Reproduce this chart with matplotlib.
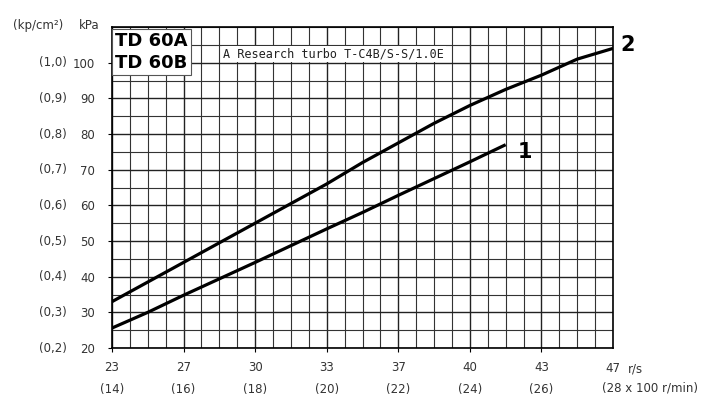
import matplotlib.pyplot as plt
from matplotlib.ticker import MultipleLocator

# speed axis in 100 r/min, pressure in kPa
rpm = [14, 15, 16, 17, 18, 19, 20, 21, 22, 23, 24, 25, 26, 27, 28]
curve2 = [33, 38.5, 44, 49.5, 55, 60.5, 66, 72, 77.5, 83, 88, 92.5, 96.5, 101, 104]
rpm1 = [14, 15, 16, 17, 18, 19, 20, 21, 22, 23, 24, 25]
curve1 = [25.6, 30, 34.8, 39.4, 44, 48.7, 53.4, 58, 62.8, 67.5, 72.2, 77]

x_ticks = [14, 16, 18, 20, 22, 24, 26, 28]
x_rs = ["23", "27", "30", "33", "37", "40", "43", "47"]
y_ticks = [20, 30, 40, 50, 60, 70, 80, 90, 100]
y_kp = ["(0,2)", "(0,3)", "(0,4)", "(0,5)", "(0,6)", "(0,7)", "(0,8)", "(0,9)", "(1,0)"]

txt = "#333333"

fig = plt.figure(figsize=(7.09, 3.96), dpi=100)
ax = fig.add_axes([0.158, 0.1212, 0.7066, 0.8106])

ax.set_xlim(14, 28)
ax.set_ylim(20, 110)

ax.xaxis.set_minor_locator(MultipleLocator(0.5))
ax.yaxis.set_minor_locator(MultipleLocator(5))
ax.grid(which="major", color="#222222", lw=1.0)
ax.grid(which="minor", color="#333333", lw=0.8)
ax.set_axisbelow(True)

ax.plot(rpm, curve2, color="black", lw=2.3, solid_capstyle="butt")
ax.plot(rpm1, curve1, color="black", lw=2.3, solid_capstyle="butt")

ax.text(rpm[-1] + 0.2, curve2[-1] + 1, "2", fontsize=15, fontweight="bold",
        va="center", ha="left", clip_on=False)
ax.text(rpm1[-1] + 0.35, curve1[-1] - 2, "1", fontsize=15, fontweight="bold",
        va="center", ha="left")

for s in ax.spines.values():
    s.set_color("black")
    s.set_linewidth(1.2)

# x tick labels
ax.set_xticks(x_ticks[:-1], labels=[f"{r}\n({t})" for r, t in zip(x_rs[:-1], x_ticks[:-1])])
ax.tick_params(axis="x", length=3, width=0.8, pad=6, labelsize=8.5, labelcolor=txt,
               which="major")
for lab in ax.get_xticklabels():
    lab.set_linespacing(1.9)
ax.tick_params(which="minor", length=0)
xt = ax.get_xaxis_transform()
ax.text(x_ticks[-1], -0.045, x_rs[-1], transform=xt, ha="center", va="top",
        fontsize=8.5, color=txt)
ax.text(x_ticks[-1] + 0.42, -0.045, "r/s", transform=xt, ha="left", va="top",
        fontsize=8.5, color=txt)
ax.text(x_ticks[-1] - 0.3, -0.105, f"({x_ticks[-1]} x 100 r/min)", transform=xt,
        ha="left", va="top", fontsize=8.5, color=txt, clip_on=False)

# y tick labels (kPa and kp/cm2)
ax.set_yticks(y_ticks, labels=[str(v) for v in y_ticks])
ax.tick_params(axis="y", length=3, width=0.8, pad=9, labelsize=8.5, labelcolor=txt)
yt = ax.get_yaxis_transform()
for v, k in zip(y_ticks, y_kp):
    ax.text(-0.09, v, k, transform=yt, ha="right", va="center", fontsize=8.5, color=txt)
ax.text(-0.024, 1.005, "kPa", transform=ax.transAxes, ha="right", va="center",
        fontsize=8.5, color=txt)
ax.text(-0.097, 1.005, "(kp/cm²)", transform=ax.transAxes, ha="right", va="center",
        fontsize=8.5, color=txt)

# model box and test note
ax.text(0.006, 0.983, "TD 60A\nTD 60B", transform=ax.transAxes, ha="left", va="top",
        fontsize=13, fontweight="bold", color="black", linespacing=1.25,
        bbox=dict(facecolor="white", edgecolor="#555555", lw=0.8, pad=2.5))
ax.text(0.222, 0.906, "A Research turbo T-C4B/S-S/1.0E", transform=ax.transAxes,
        ha="left", va="baseline", fontsize=8.5, family="DejaVu Sans Mono",
        color="#222222", bbox=dict(facecolor="white", edgecolor="none", pad=1))

fig.savefig("out.png", dpi=100)
